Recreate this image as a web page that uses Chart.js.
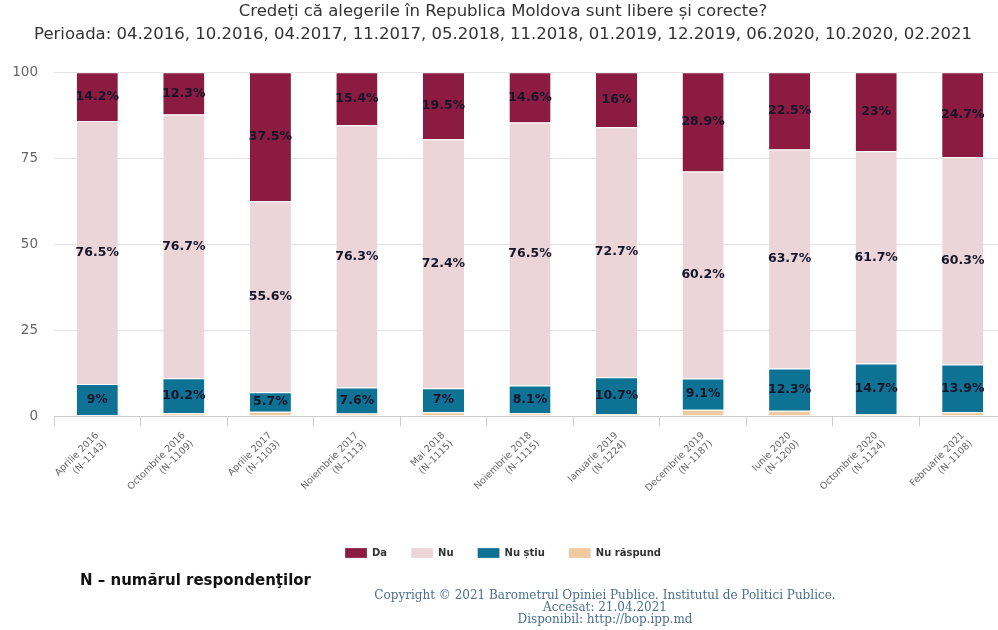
<!DOCTYPE html>
<html>
<head>
<meta charset="utf-8">
<script src="https://cdn.jsdelivr.net/npm/chart.js@4.4.1/dist/chart.umd.min.js"></script>
<style>
  html, body { margin: 0; padding: 0; background: #ffffff; overflow: hidden; width: 998px; height: 630px; }
  #wrap { position: relative; width: 998px; height: 630px; overflow: hidden; }
  #c { position: absolute; left: 0; top: 0; }
  #note { position: absolute; left: 80px; top: 571px; font: bold 15px "DejaVu Sans", sans-serif; color: #111; white-space: nowrap; }
  #copy { position: absolute; left: 355px; width: 500px; top: 589px; text-align: center; font: 12px "DejaVu Serif", serif; line-height: 12px; color: #4b6f8f; white-space: nowrap; }
</style>
</head>
<body>
<div id="wrap">
  <canvas id="c" width="1010" height="630"></canvas>
  <div id="note">N – numărul respondenţilor</div>
  <div id="copy">Copyright © 2021 Barometrul Opiniei Publice. Institutul de Politici Publice.<br>Accesat: 21.04.2021<br>Disponibil: http://bop.ipp.md</div>
</div>
<script>
const titleLines = ['Credeți că alegerile în Republica Moldova sunt libere și corecte?',
  'Perioada: 04.2016, 10.2016, 04.2017, 11.2017, 05.2018, 11.2018, 01.2019, 12.2019, 06.2020, 10.2020, 02.2021'];
const periods = ['Aprilie 2016', 'Octombrie 2016', 'Aprilie 2017', 'Noiembrie 2017', 'Mai 2018', 'Noiembrie 2018',
  'Ianuarie 2019', 'Decembrie 2019', 'Iunie 2020', 'Octombrie 2020', 'Februarie 2021'];
const sampleSizes = [1143, 1109, 1103, 1113, 1115, 1115, 1224, 1187, 1200, 1124, 1108];
const da = [14.2, 12.3, 37.5, 15.4, 19.5, 14.6, 16, 28.9, 22.5, 23, 24.7];
const nu = [76.5, 76.7, 55.6, 76.3, 72.4, 76.5, 72.7, 60.2, 63.7, 61.7, 60.3];
const nuStiu = [9, 10.2, 5.7, 7.6, 7, 8.1, 10.7, 9.1, 12.3, 14.7, 13.9];
const nuRaspund = [0.3, 0.8, 1.2, 0.7, 1.1, 0.8, 0.6, 1.8, 1.5, 0.6, 1.1];
const yTicks = [0, 25, 50, 75, 100];

const labels = periods.map((p, i) => [p, '(N–' + sampleSizes[i] + ')']);

const segLabels = {
  id: 'segLabels',
  afterDatasetsDraw(chart) {
    const ctx = chart.ctx;
    ctx.save();
    ctx.font = 'bold 12.5px "DejaVu Sans", sans-serif';
    ctx.fillStyle = '#15152a';
    ctx.textAlign = 'center';
    ctx.textBaseline = 'middle';
    chart.data.datasets.forEach((ds, di) => {
      if (!ds.showLabels) return;
      const meta = chart.getDatasetMeta(di);
      meta.data.forEach((bar, i) => {
        const v = ds.data[i];
        ctx.fillText(v + '%', bar.x, (bar.y + bar.base) / 2);
      });
    });
    ctx.restore();
  }
};

new Chart(document.getElementById('c'), {
  type: 'bar',
  data: {
    labels: labels,
    datasets: [
      { label: 'Nu răspund', data: nuRaspund, backgroundColor: '#efc9a0', showLabels: false },
      { label: 'Nu știu', data: nuStiu, backgroundColor: '#0e7294', showLabels: true },
      { label: 'Nu', data: nu, backgroundColor: '#ebd5d9', showLabels: true },
      { label: 'Da', data: da, backgroundColor: '#8b1b40', showLabels: true }
    ].map(d => Object.assign(d, { borderColor: '#ffffff', borderWidth: { top: 1 }, borderSkipped: false, barPercentage: 0.475, categoryPercentage: 1 }))
  },
  options: {
    responsive: false,
    animation: false,
    devicePixelRatio: 1,
    layout: { padding: { left: 0, right: 4, top: 0, bottom: 62 } },
    plugins: {
      tooltip: { enabled: false },
      title: {
        display: true,
        text: titleLines,
        color: '#333333',
        font: { family: '"DejaVu Sans", sans-serif', size: 16.5, weight: 'normal', lineHeight: 1.4 },
        padding: { top: 0, bottom: 26 }
      },
      legend: {
        position: 'bottom',
        reverse: true,
        labels: {
          boxWidth: 22, boxHeight: 10, padding: 24,
          color: '#333333',
          font: { family: '"DejaVu Sans", sans-serif', size: 10, weight: 'bold' }
        }
      }
    },
    scales: {
      x: {
        stacked: true,
        offset: true,
        grid: { display: true, offset: true, drawOnChartArea: false, color: '#cccccc', tickLength: 10 },
        border: { display: true, color: '#cccccc' },
        ticks: {
          color: '#666666', maxRotation: 45, minRotation: 45, autoSkip: false, padding: 4,
          font: { family: '"DejaVu Sans", sans-serif', size: 9.5 }
        },
        afterFit: s => { s.height = 108; }
      },
      y: {
        stacked: true,
        min: 0, max: 100,
        afterBuildTicks: s => { s.ticks = yTicks.map(v => ({ value: v })); },
        grid: { color: '#e3e3e3', drawTicks: false },
        border: { display: false },
        ticks: { color: '#666666', padding: 16, font: { family: '"DejaVu Sans", sans-serif', size: 13.5 } },
        afterFit: s => { s.width = 54; }
      }
    }
  },
  plugins: [segLabels]
});
</script>
</body>
</html>
